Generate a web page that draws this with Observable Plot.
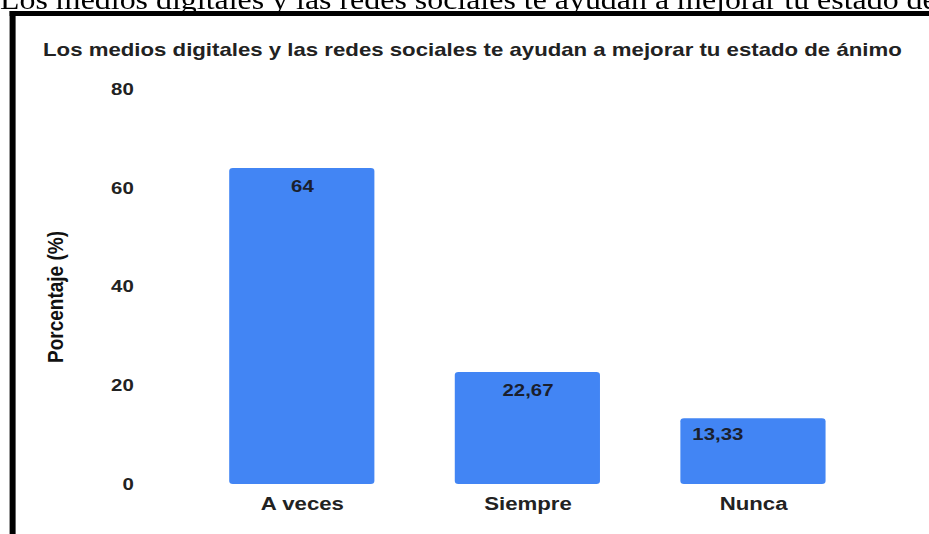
<!DOCTYPE html>
<html>
<head>
<meta charset="utf-8">
<script src="https://cdn.jsdelivr.net/npm/d3@7"></script>
<script src="https://cdn.jsdelivr.net/npm/@observablehq/plot@0.6"></script>
<style>
  html, body { margin: 0; padding: 0; background: #fff; width: 929px; height: 534px; overflow: hidden; }
  #stage { position: absolute; left: 0; top: 0; width: 774px; height: 534px; transform: scaleX(1.2); transform-origin: 0 0; }
  #doc-title { position: absolute; left: 0; top: -13.2px; font-family: "Liberation Serif", "Times New Roman", serif; font-size: 26.6px; line-height: 1; white-space: nowrap; color: #000; z-index: 1; }
  #frame { position: absolute; left: 8.3px; top: 11px; width: 900px; height: 600px; border-left: 5px solid #000; border-top: 5px solid #000; z-index: 4; pointer-events: none; }
  #chart-title { position: absolute; left: 13.33px; width: 760.7px; top: 41px; text-align: center; font: bold 18.5px "Liberation Sans", Arial, sans-serif; line-height: 1; color: #222; white-space: nowrap; z-index: 3; }
  #chart { position: absolute; left: 13.33px; top: 16px; z-index: 2; }
</style>
</head>
<body>
<div id="stage">
  <div id="doc-title">Los medios digitales y las redes sociales te ayudan a mejorar tu estado de ánimo</div>
  <div id="chart"></div>
  <div id="chart-title">Los medios digitales y las redes sociales te ayudan a mejorar tu estado de ánimo</div>
  <div id="frame"></div>
</div>
<script>
const categories = ["A veces", "Siempre", "Nunca"];
const values = [64, 22.67, 13.33];
const valueLabels = ["64", "22,67", "13,33"];
const yTicks = [0, 20, 40, 60, 80];
const yLabel = "Porcentaje (%)";

const data = categories.map((c, i) => ({category: c, value: values[i], label: valueLabels[i]}));

const font = "'Liberation Sans', Arial, sans-serif";

const chart = Plot.plot({
  width: 760.7,
  height: 518,
  marginTop: 73,
  marginBottom: 50,
  marginLeft: 110,
  marginRight: 17.3,
  style: {fontFamily: font, fontWeight: "bold", background: "#fff", overflow: "visible"},
  x: {domain: categories, padding: 0.354, label: null},
  y: {domain: [0, 80], label: null},
  marks: [
    Plot.barY(data, {x: "category", y: "value", fill: "#4285F4", rx: 3}),
    Plot.text(data.slice(0, 2), {x: "category", y: "value", text: "label", dy: 18, fill: "#1a1f2e", fontSize: 17, fontWeight: "bold"}),
    Plot.text(data.slice(2), {x: "category", y: "value", text: "label", dy: 16, dx: -51, textAnchor: "start", fill: "#1a1f2e", fontSize: 17, fontWeight: "bold"}),
    Plot.axisY({ticks: yTicks, tickSize: 0, tickPadding: 12, fontSize: 17, fontWeight: "bold", color: "#222", label: null}),
    Plot.axisX({tickSize: 0, tickPadding: 12, fontSize: 18.5, fontWeight: "bold", color: "#222", label: null}),
    Plot.text([yLabel], {frameAnchor: "left", textAnchor: "middle", rotate: -90, dx: -77, dy: 10, fontSize: 19, fontWeight: "bold", fill: "#111"})
  ]
});
document.getElementById("chart").appendChild(chart);
</script>
</body>
</html>
